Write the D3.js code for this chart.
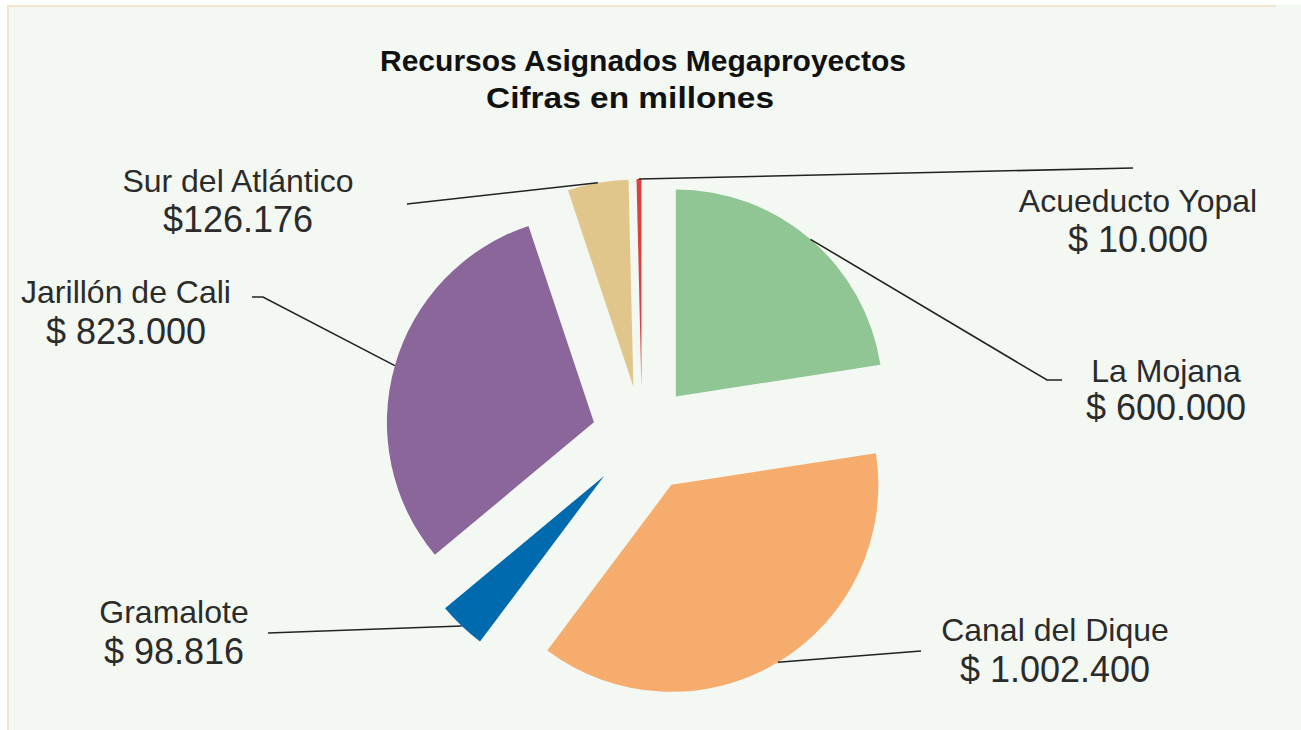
<!DOCTYPE html>
<html>
<head>
<meta charset="utf-8">
<script src="https://cdn.jsdelivr.net/npm/d3@7"></script>
<style>
  body { margin: 0; background: #fff; }
  svg text { font-family: "Liberation Sans", Arial, sans-serif; }
</style>
</head>
<body>
<svg id="chart" width="1301" height="730"></svg>
<script>
const width = 1301;
const height = 730;

// data (cifras en millones)
const projects = ["Acueducto Yopal", "La Mojana", "Canal del Dique", "Gramalote", "Jarillón de Cali", "Sur del Atlántico"];
const amounts = [10000, 600000, 1002400, 98816, 823000, 126176];
const currencyPrefix = ["$ ", "$ ", "$ ", "$ ", "$ ", "$"];
const titleLines = ["Recursos Asignados Megaproyectos", "Cifras en millones"];

// styling / layout
const sliceColors = ["#d9433b", "#8fc694", "#f5ac6c", "#006aae", "#8a669a", "#e1c68c"];
const explode = [50, 52, 57, 55, 50, 50];
const center = { x: 642, y: 436 };
const radius = 207;
// label centre, baselines and leader elbow points
const labelLayout = [
  { x: 1138, y1: 212, y2: 252, leader: [[1133, 168]] },
  { x: 1166, y1: 382, y2: 420, leader: [[1047, 380], [1062, 380]] },
  { x: 1055, y1: 641, y2: 682, leader: [[921, 651]] },
  { x: 174, y1: 623, y2: 664, leader: [[268, 633]] },
  { x: 126, y1: 303, y2: 344, leader: [[263, 297], [252, 297]] },
  { x: 238, y1: 192, y2: 232, leader: [[407, 204]] }
];

const svg = d3.select("svg#chart");

// panel
svg.append("rect")
  .attr("x", 7).attr("y", 5)
  .attr("width", width - 7).attr("height", height - 5)
  .attr("fill", "#f4f8f3");
svg.append("line")
  .attr("x1", 7).attr("x2", 1276).attr("y1", 6).attr("y2", 6)
  .attr("stroke", "#f3e4cd").attr("stroke-width", 2);
svg.append("line")
  .attr("x1", 8).attr("x2", 8).attr("y1", 5).attr("y2", height)
  .attr("stroke", "#f3e4cd").attr("stroke-width", 2);

// title (the original uses a condensed face, so widths are fitted)
const titleX = [643, 630];
const titleY = [71, 108];
const titleWidth = [526, 288];
svg.append("g").selectAll("text")
  .data(titleLines)
  .join("text")
  .attr("x", (d, i) => titleX[i])
  .attr("y", (d, i) => titleY[i])
  .attr("text-anchor", "middle")
  .attr("font-size", 30)
  .attr("font-weight", "bold")
  .attr("fill", "#111")
  .attr("textLength", (d, i) => titleWidth[i])
  .attr("lengthAdjust", "spacingAndGlyphs")
  .text(d => d);

const data = projects.map((name, i) => ({
  name,
  value: amounts[i],
  prefix: currencyPrefix[i],
  color: sliceColors[i],
  explode: explode[i],
  layout: labelLayout[i]
}));

// the first slice ends at 12 o'clock
const total = d3.sum(amounts);
const a0 = 2 * Math.PI * amounts[0] / total;
const pie = d3.pie().sort(null).value(d => d.value)
  .startAngle(-a0).endAngle(2 * Math.PI - a0);
const arcs = pie(data);

const arc = d3.arc().innerRadius(0).outerRadius(radius);

const offset = d => {
  const mid = (d.startAngle + d.endAngle) / 2;
  return [Math.sin(mid) * d.data.explode, -Math.cos(mid) * d.data.explode];
};

const pieG = svg.append("g").attr("transform", `translate(${center.x},${center.y})`);

pieG.selectAll("path")
  .data(arcs)
  .join("path")
  .attr("d", arc)
  .attr("fill", d => d.data.color)
  .attr("transform", d => `translate(${offset(d)})`);

// leader lines, from the middle of each slice's outer edge
const line = d3.line();
svg.append("g")
  .attr("fill", "none")
  .attr("stroke", "#222")
  .attr("stroke-width", 1.6)
  .selectAll("path")
  .data(arcs)
  .join("path")
  .attr("d", d => {
    const mid = (d.startAngle + d.endAngle) / 2;
    const [ox, oy] = offset(d);
    const start = [center.x + ox + Math.sin(mid) * radius, center.y + oy - Math.cos(mid) * radius];
    return line([start, ...d.data.layout.leader]);
  });

// labels
const fmt = d3.formatLocale({ decimal: ",", thousands: ".", grouping: [3], currency: ["$", ""] }).format(",d");

const labels = svg.append("g")
  .attr("fill", "#2b2b2b")
  .attr("text-anchor", "middle")
  .selectAll("g")
  .data(arcs)
  .join("g");

labels.append("text")
  .attr("x", d => d.data.layout.x)
  .attr("y", d => d.data.layout.y1)
  .attr("font-size", 32)
  .text(d => d.data.name);

labels.append("text")
  .attr("x", d => d.data.layout.x)
  .attr("y", d => d.data.layout.y2)
  .attr("font-size", 36)
  .text(d => d.data.prefix + fmt(d.data.value));
</script>
</body>
</html>
